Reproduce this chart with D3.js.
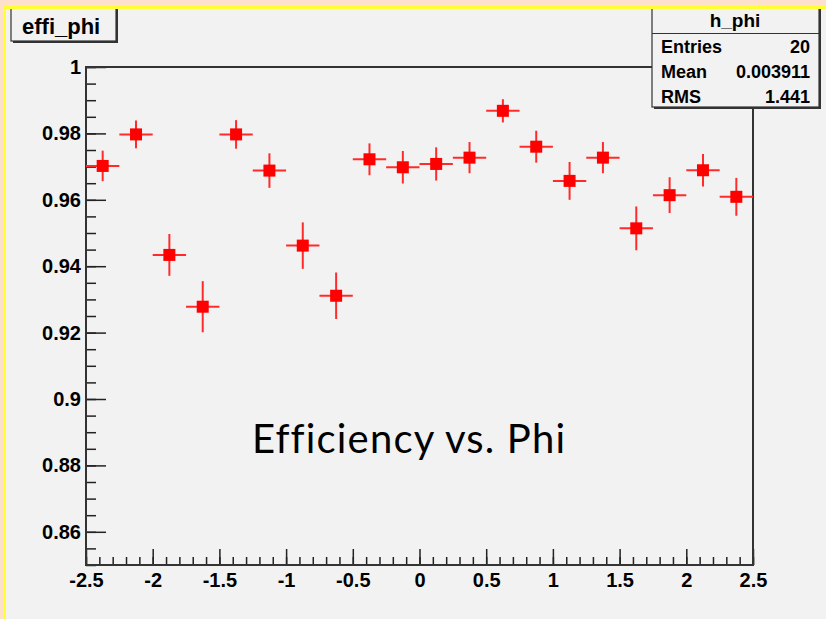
<!DOCTYPE html>
<html>
<head>
<meta charset="utf-8">
<script src="https://cdn.jsdelivr.net/npm/d3@7"></script>
<style>
  html, body { margin: 0; padding: 0; background: #f2f2f2; }
  svg { display: block; }
  .tick text { font-family: "Liberation Sans", Arial, sans-serif; font-weight: bold; font-size: 20px; fill: #000; }
  .tick line { stroke: #222; stroke-width: 1.5; }
</style>
</head>
<body>
<div id="chart"></div>
<script>
// datos del histograma effi_phi (centro del bin, eficiencia, error)
var phiCenters = [-2.375, -2.125, -1.875, -1.625, -1.375, -1.125, -0.875, -0.625, -0.375, -0.125,
                  0.125, 0.375, 0.625, 0.875, 1.125, 1.375, 1.625, 1.875, 2.125, 2.375];
var efficiency = [0.9702, 0.9797, 0.9434, 0.9278, 0.9797, 0.9688, 0.9462, 0.9311, 0.9722, 0.9698,
                  0.9708, 0.9727, 0.9868, 0.9760, 0.9657, 0.9727, 0.9514, 0.9614, 0.9689, 0.9609];
var effError = [0.0046, 0.0042, 0.0063, 0.0077, 0.0043, 0.0052, 0.0070, 0.0070, 0.0048, 0.0049,
                0.0050, 0.0047, 0.0035, 0.0048, 0.0057, 0.0047, 0.0066, 0.0054, 0.0049, 0.0057];
var binWidth = 0.25;

var xMajorTicks = [-2.5, -2, -1.5, -1, -0.5, 0, 0.5, 1, 1.5, 2, 2.5];
var yMajorTicks = [0.86, 0.88, 0.9, 0.92, 0.94, 0.96, 0.98, 1];

var statsLabels = ["Entries", "Mean", "RMS"];
var statsValues = ["20", "0.003911", "1.441"];

var width = 826, height = 619;
var margin = { top: 67, right: 73, bottom: 54, left: 86 };
var plotW = width - margin.left - margin.right;
var plotH = height - margin.top - margin.bottom;

var svg = d3.select("#chart").append("svg")
    .attr("width", width)
    .attr("height", height);

// fondo
svg.append("rect").attr("width", width).attr("height", height).attr("fill", "#f2f2f2");

var x = d3.scaleLinear().domain([-2.5, 2.5]).range([margin.left, margin.left + plotW]);
var y = d3.scaleLinear().domain([0.85, 1]).range([margin.top + plotH, margin.top]);

// ticks menores
var xMinor = d3.range(-25, 26).map(function(i) { return i / 10; });
var yMinor = d3.range(170, 201).map(function(i) { return i / 200; });

svg.append("g")
    .attr("transform", "translate(0," + y.range()[0] + ")")
    .call(d3.axisBottom(x).tickValues(xMinor).tickSize(-8).tickFormat(""))
    .call(function(g) { g.select(".domain").remove(); });

svg.append("g")
    .attr("transform", "translate(0," + y.range()[0] + ")")
    .call(d3.axisBottom(x).tickValues(xMajorTicks).tickSize(-16).tickPadding(8)
          .tickFormat(function(d) { return String(d); }))
    .call(function(g) { g.select(".domain").remove(); });

svg.append("g")
    .attr("transform", "translate(" + x.range()[0] + ",0)")
    .call(d3.axisLeft(y).tickValues(yMinor).tickSize(-10).tickFormat(""))
    .call(function(g) { g.select(".domain").remove(); });

svg.append("g")
    .attr("transform", "translate(" + x.range()[0] + ",0)")
    .call(d3.axisLeft(y).tickValues(yMajorTicks).tickSize(-20).tickPadding(5)
          .tickFormat(function(d) { return String(+d.toFixed(2)); }))
    .call(function(g) { g.select(".domain").remove(); });

// marco del grafico
svg.append("rect")
    .attr("x", x.range()[0]).attr("y", y.range()[1])
    .attr("width", plotW).attr("height", plotH)
    .attr("fill", "none").attr("stroke", "#333").attr("stroke-width", 2);

// puntos con barras de error
var pts = svg.append("g").selectAll("g")
    .data(phiCenters.map(function(c, i) { return { phi: c, eff: efficiency[i], err: effError[i] }; }))
    .enter().append("g");

pts.append("line")
    .attr("x1", function(d) { return x(d.phi - binWidth / 2); })
    .attr("x2", function(d) { return x(d.phi + binWidth / 2); })
    .attr("y1", function(d) { return y(d.eff); })
    .attr("y2", function(d) { return y(d.eff); })
    .attr("stroke", "#ff2b2b").attr("stroke-width", 2);

pts.append("line")
    .attr("x1", function(d) { return x(d.phi); })
    .attr("x2", function(d) { return x(d.phi); })
    .attr("y1", function(d) { return y(d.eff - d.err); })
    .attr("y2", function(d) { return y(d.eff + d.err); })
    .attr("stroke", "#ff2b2b").attr("stroke-width", 2);

pts.append("rect")
    .attr("x", function(d) { return x(d.phi) - 6; })
    .attr("y", function(d) { return y(d.eff) - 6; })
    .attr("width", 12).attr("height", 12)
    .attr("fill", "#ff0000");

// texto central
var label = svg.append("text")
    .attr("x", 252).attr("y", 453)
    .style("font-family", "Lato, 'Open Sans', sans-serif")
    .style("font-size", "40px")
    .style("font-variant-ligatures", "none")
    .attr("fill", "#000")
    .text("Efficiency vs. Phi");
// ajustar el ancho al original (~313 px)
var w = label.node().getComputedTextLength();
label.style("letter-spacing", ((313 - w) / 17) + "px");

// caja de titulo
function shadowBox(bx, by, bw, bh) {
    svg.append("rect").attr("x", bx + 2).attr("y", by + 2).attr("width", bw).attr("height", bh)
        .attr("fill", "#333");
    svg.append("rect").attr("x", bx).attr("y", by).attr("width", bw).attr("height", bh)
        .attr("fill", "#f2f2f2").attr("stroke", "#333").attr("stroke-width", 1.2);
}

shadowBox(11, 2, 105, 39);
svg.append("text")
    .attr("x", 22).attr("y", 34)
    .style("font-family", "'Liberation Sans', Arial, sans-serif")
    .style("font-weight", "bold").style("font-size", "22px")
    .text("effi_phi");

// caja de estadisticas
shadowBox(652, 2, 167, 105);
svg.append("line").attr("x1", 652).attr("x2", 819).attr("y1", 33.5).attr("y2", 33.5)
    .attr("stroke", "#333").attr("stroke-width", 1.2);
svg.append("text")
    .attr("x", 735).attr("y", 27).attr("text-anchor", "middle")
    .style("font-family", "'Liberation Sans', Arial, sans-serif")
    .style("font-weight", "bold").style("font-size", "19px")
    .text("h_phi");

statsLabels.forEach(function(lbl, i) {
    var by = 53 + i * 25;
    svg.append("text").attr("x", 661).attr("y", by)
        .style("font-family", "'Liberation Sans', Arial, sans-serif")
        .style("font-weight", "bold").style("font-size", "18px")
        .text(lbl);
    svg.append("text").attr("x", 810).attr("y", by).attr("text-anchor", "end")
        .style("font-family", "'Liberation Sans', Arial, sans-serif")
        .style("font-weight", "bold").style("font-size", "18px")
        .text(statsValues[i]);
});

// borde amarillo de la diapositiva
svg.append("rect").attr("x", 0).attr("y", 0).attr("width", width).attr("height", 6).attr("fill", "#fde1cd");
svg.append("rect").attr("x", 0).attr("y", 0).attr("width", 3).attr("height", height).attr("fill", "#fde1cd");
svg.append("rect").attr("x", 3).attr("y", 6).attr("width", width - 3).attr("height", 3).attr("fill", "#ffff33");
svg.append("rect").attr("x", 3).attr("y", 6).attr("width", 3).attr("height", height - 6).attr("fill", "#ffff33");
</script>
</body>
</html>
